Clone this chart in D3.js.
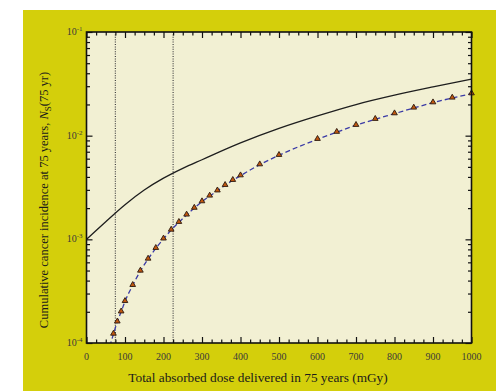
<!DOCTYPE html>
<html>
<head>
<meta charset="utf-8">
<script src="https://cdn.jsdelivr.net/npm/d3@7"></script>
<style>
  html, body { margin: 0; padding: 0; background: #ffffff; }
  svg { display: block; }
</style>
</head>
<body>
<div id="chart"></div>
<script>
// doses (mGy) and cumulative incidence
const solidDose = [0, 50, 100, 150, 200, 250, 300, 400, 500, 600, 700, 800, 900, 1000];
const solidRisk = [1.0e-3, 1.48e-3, 2.16e-3, 2.99e-3, 3.89e-3, 4.84e-3, 5.86e-3, 8.51e-3, 1.175e-2, 1.55e-2, 1.995e-2, 2.455e-2, 2.95e-2, 3.51e-2];

const markerDose = [70, 80, 90, 100, 120, 140, 160, 180, 200, 220, 240, 260, 280, 300, 320, 340, 360, 380, 400, 450, 500, 600, 650, 700, 750, 800, 850, 900, 950, 1000];
const markerRisk = [1.22e-4, 1.6e-4, 2.0e-4, 2.52e-4, 3.6e-4, 4.95e-4, 6.46e-4, 8.19e-4, 1.01e-3, 1.23e-3, 1.46e-3, 1.72e-3, 2.0e-3, 2.31e-3, 2.62e-3, 2.94e-3, 3.32e-3, 3.71e-3, 4.11e-3, 5.25e-3, 6.47e-3, 9.23e-3, 1.08e-2, 1.26e-2, 1.44e-2, 1.63e-2, 1.85e-2, 2.08e-2, 2.31e-2, 2.54e-2];

// dashed fit continues below the bottom of the frame
const dashLeadDose = [55];
const dashLeadRisk = [7.8e-5];

const guideDose = [75, 225];
const xTicks = [0, 100, 200, 300, 400, 500, 600, 700, 800, 900, 1000];
const yDecades = [1e-4, 1e-3, 1e-2, 1e-1];
const yExponents = ["-4", "-3", "-2", "-1"];

const width = 501, height = 391;
const plotLeft = 86.5, plotRight = 471.5, plotTop = 32, plotBottom = 343;

const SERIF = "'Liberation Serif', 'DejaVu Serif', serif";
const OUTER_BG = "#d4cf0b";
const PLOT_BG = "#f2f0d3";

const svg = d3.select("#chart").append("svg")
  .attr("width", width)
  .attr("height", height);

svg.append("rect")
  .attr("x", 23).attr("y", 10)
  .attr("width", 473).attr("height", height - 10)
  .attr("fill", OUTER_BG);

const x = d3.scaleLinear().domain([0, 1000]).range([plotLeft, plotRight]);
const y = d3.scaleLog().domain([1e-4, 1e-1]).range([plotBottom, plotTop]);

svg.append("rect")
  .attr("x", plotLeft).attr("y", plotTop)
  .attr("width", plotRight - plotLeft).attr("height", plotBottom - plotTop)
  .attr("fill", PLOT_BG);

svg.append("clipPath").attr("id", "plot-clip")
  .append("rect")
  .attr("x", plotLeft).attr("y", plotTop)
  .attr("width", plotRight - plotLeft).attr("height", plotBottom - plotTop);

const plot = svg.append("g").attr("clip-path", "url(#plot-clip)");

// dotted guides
plot.selectAll("line.guide")
  .data(guideDose)
  .join("line")
  .attr("class", "guide")
  .attr("x1", (d) => x(d)).attr("x2", (d) => x(d))
  .attr("y1", plotTop).attr("y2", plotBottom)
  .attr("stroke", "#444")
  .attr("stroke-width", 1.2)
  .attr("stroke-dasharray", "1,1.4");

const line = d3.line()
  .x((d) => x(d[0]))
  .y((d) => y(d[1]))
  .curve(d3.curveMonotoneX);

const solidPts = solidDose.map((d, i) => [d, solidRisk[i]]);
const markerPts = markerDose.map((d, i) => [d, markerRisk[i]]);
const dashPts = dashLeadDose.map((d, i) => [d, dashLeadRisk[i]]).concat(markerPts);

plot.append("path")
  .datum(solidPts)
  .attr("d", line)
  .attr("fill", "none")
  .attr("stroke", "#1e1e1e")
  .attr("stroke-width", 1.3);

plot.append("path")
  .datum(dashPts)
  .attr("d", line)
  .attr("fill", "none")
  .attr("stroke", "#3b3ba6")
  .attr("stroke-width", 1.3)
  .attr("stroke-dasharray", "5,3");

const tri = d3.symbol().type(d3.symbolTriangle).size(14);
svg.append("g")
  .selectAll("path")
  .data(markerPts)
  .join("path")
  .attr("transform", (d) => `translate(${x(d[0])},${y(d[1]) - 0.5})`)
  .attr("d", tri)
  .attr("fill", "#c2570f")
  .attr("stroke", "#2a1a10")
  .attr("stroke-width", 0.9);

// axes with inward ticks on all four sides
const xMinor = d3.range(0, 1001, 25).filter((d) => d % 100 !== 0);
const yMinor = [];
yDecades.slice(0, 3).forEach((dec) => {
  for (let k = 2; k <= 9; k++) yMinor.push(dec * k);
});

function styleAxis(g) {
  g.select(".domain").remove();
  g.selectAll(".tick line").attr("stroke", "#111").attr("stroke-width", 1.2);
  g.selectAll(".tick text").remove();
}

const axes = [
  [d3.axisBottom(x), `translate(0,${plotBottom})`, xTicks, xMinor],
  [d3.axisTop(x), `translate(0,${plotTop})`, xTicks, xMinor],
  [d3.axisLeft(y), `translate(${plotLeft},0)`, yDecades, yMinor],
  [d3.axisRight(y), `translate(${plotRight},0)`, yDecades, yMinor],
];
axes.forEach(([axis, tf, major, minor]) => {
  svg.append("g").attr("transform", tf)
    .call(axis.tickValues(major).tickSize(-6).tickFormat(""))
    .call(styleAxis);
  svg.append("g").attr("transform", tf)
    .call(axis.tickValues(minor).tickSize(-3.5).tickFormat(""))
    .call(styleAxis);
});

svg.append("rect")
  .attr("x", plotLeft).attr("y", plotTop)
  .attr("width", plotRight - plotLeft).attr("height", plotBottom - plotTop)
  .attr("fill", "none")
  .attr("stroke", "#111")
  .attr("stroke-width", 1.6);

// tick labels
svg.append("g")
  .selectAll("text")
  .data(xTicks)
  .join("text")
  .attr("x", (d) => x(d))
  .attr("y", 360)
  .attr("text-anchor", "middle")
  .attr("font-family", SERIF)
  .attr("font-size", 10)
  .attr("fill", "#3a3a3a")
  .text((d) => d);

const yLabels = svg.append("g")
  .selectAll("text")
  .data(yDecades)
  .join("text")
  .attr("x", plotLeft - 4)
  .attr("y", (d) => y(d) + 3)
  .attr("text-anchor", "end")
  .attr("font-family", SERIF)
  .attr("font-size", 10)
  .attr("fill", "#3a3a3a");
yLabels.append("tspan").text("10");
yLabels.append("tspan")
  .attr("dy", -4)
  .attr("font-size", 7)
  .text((d, i) => yExponents[i]);

// axis titles
svg.append("text")
  .attr("x", 258)
  .attr("y", 382)
  .attr("text-anchor", "middle")
  .attr("font-family", SERIF)
  .attr("font-size", 13.3)
  .attr("fill", "#1a1a1a")
  .text("Total absorbed dose delivered in 75 years (mGy)");

const yTitle = svg.append("text")
  .attr("transform", `translate(48,200) rotate(-90)`)
  .attr("text-anchor", "middle")
  .attr("font-family", SERIF)
  .attr("font-size", 12.5)
  .attr("fill", "#1a1a1a");
yTitle.append("tspan").text("Cumulative cancer incidence at 75 years, ");
yTitle.append("tspan").attr("font-style", "italic").text("N");
yTitle.append("tspan").attr("font-size", 9).attr("dy", 3).text("S");
yTitle.append("tspan").attr("dy", -3).text("(75 yr)");
</script>
</body>
</html>
